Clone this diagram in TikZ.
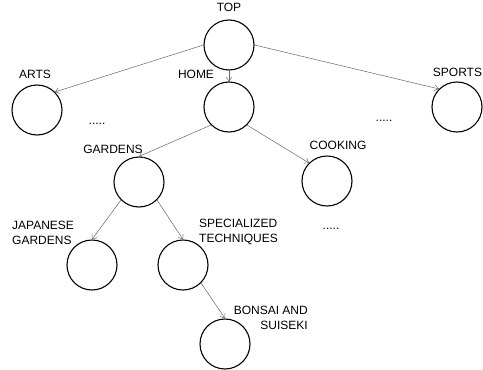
\documentclass[tikz,border=0pt]{standalone}
\usepackage{fontspec}
\setmainfont{Liberation Sans}
\usetikzlibrary{arrows.meta}

\begin{document}
\begin{tikzpicture}[x=1pt,y=-1pt,
  topic/.style={circle, draw, line width=1.1pt, minimum size=50pt, inner sep=0pt},
  link/.style={-{Straight Barb[length=4pt,width=6pt]}, draw=black!60, line width=0.5pt},
  tag/.style={inner sep=0pt, font=\fontsize{12}{15}\selectfont}]
			\useasboundingbox (0,0) rectangle (483,370);
			%%%%%%%%%%%%%%%%%%%%%%%%%%%%%%%%
			\node[topic] (top) at (229,45){};
			\node[topic] (arts) at (37,110){};
			\node[topic] (home) at (229,107){};
			\node[topic] (sports) at (457,107){};
			\node[topic] (gardens) at (139,182){};
			\node[topic] (cooking) at (327,181){};
			\node[topic] (japan) at (92,265){};
			\node[topic] (special) at (183,265){};
			\node[topic] (bonsai) at (225,344){};
			%%%%%%%%%%%%%%%%%%%%%%%%%%%%%
			\node[tag, anchor=base] (ltop) at (229,11){TOP};
			\node[tag, anchor=base] (larts) at (35,78){ARTS};
			\node[tag, anchor=base] (lhome) at (196,78){HOME};
			\node[tag, anchor=base] (lsports) at (457.5,76){SPORTS};
			\node[tag, anchor=base] (lgardens) at (113,153){GARDENS};
			\node[tag, anchor=base] (lcooking) at (338,149){COOKING};
			\node[tag, align=left, anchor=north west] (ljapan) at (12,221){JAPANESE\\GARDENS};
			\node[tag, align=left, anchor=north west] (lspecial) at (199,219){SPECIALIZED\\TECHNIQUES};
			\node[tag, align=right, anchor=north east] (lbonsai) at (308,306){BONSAI AND\\SUISEKI};
			\node[tag, anchor=base] (dots1) at (97,124){.....};
			\node[tag, anchor=base] (dots2) at (384,121){.....};
			\node[tag, anchor=base] (dots3) at (331,229){.....};
			%%%%%%%%%%%%%%%%%%%%%%%%%%%%%
			\draw[link] (top.west)--(arts.north east);
			\draw[link] (top.south)--(home.north);
			\draw[link] (top.east)--(sports.north west);
			\draw[link] (home.south west)--(gardens.north);
			\draw[link] (home.south east)--(cooking.north west);
			\draw[link] (gardens.south west)--(japan.north);
			\draw[link] (gardens.south east)--(special.north);
			\draw[link] (special.south east)--(bonsai.north);
		\end{tikzpicture}
\end{document}
